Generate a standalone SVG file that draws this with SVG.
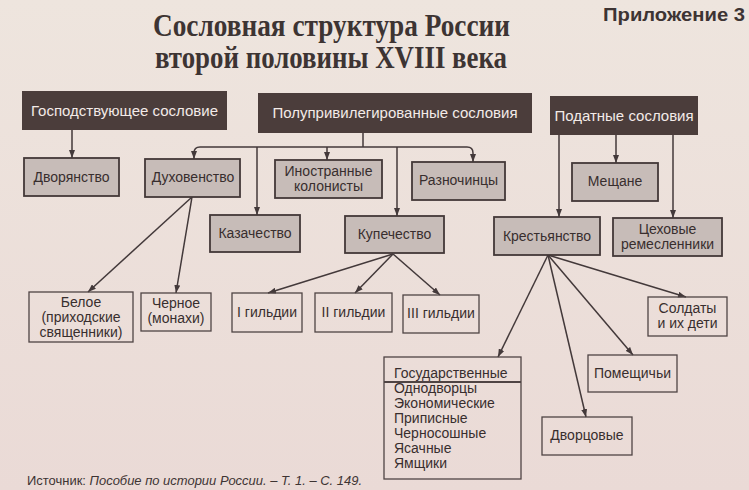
<svg xmlns="http://www.w3.org/2000/svg" width="749" height="490" viewBox="0 0 749 490">
<defs>
  <linearGradient id="bg" x1="0" y1="0" x2="0" y2="1">
    <stop offset="0" stop-color="#eee5de"/>
    <stop offset="1" stop-color="#eadad6"/>
  </linearGradient>
  <marker id="arr" markerUnits="userSpaceOnUse" markerWidth="8" markerHeight="6" refX="8" refY="3" orient="auto">
    <path d="M0,0 L8,3 L0,6 z" fill="#43393a"/>
  </marker>
</defs>
<style>
  .hdr { fill: #4b3d3b; }
  .hdrt { font-family: "Liberation Sans", Arial, sans-serif; font-size: 15px; fill: #f3ebe8; text-anchor: middle; }
  .gray { fill: #c7bcb8; stroke: #433838; stroke-width: 1.8; }
  .leaf { fill: none; stroke: #4f4444; stroke-width: 1.3; }
  .t { font-family: "Liberation Sans", Arial, sans-serif; font-size: 14px; fill: #382e2e; text-anchor: middle; }
  .tl { font-family: "Liberation Sans", Arial, sans-serif; font-size: 14px; fill: #382e2e; }
  .title { font-family: "Liberation Serif", "Times New Roman", serif; font-weight: bold; font-size: 31.5px; fill: #3d3433; }
  .con { fill: none; stroke: #43393a; stroke-width: 1.5; }
</style>
<rect x="0" y="0" width="749" height="490" fill="url(#bg)"/>

<text class="title" x="153" y="36" textLength="357" lengthAdjust="spacingAndGlyphs">Сословная структура России</text>
<text class="title" x="155" y="68" textLength="352" lengthAdjust="spacingAndGlyphs">второй половины XVIII века</text>
<text x="603" y="21" font-family="Liberation Sans, Arial, sans-serif" font-weight="bold" font-size="18" fill="#3d3433" textLength="142" lengthAdjust="spacingAndGlyphs">Приложение 3</text>

<g id="connectors">
  <line class="con" x1="72" y1="130" x2="72" y2="158" marker-end="url(#arr)"/>
  <line class="con" x1="363" y1="133" x2="363" y2="147"/>
  <path class="con" d="M200,147 L467,147 Q473,147 473,153 L473,162" marker-end="url(#arr)"/>
  <path class="con" d="M200,147 Q194,147 194,153 L194,159" marker-end="url(#arr)"/>
  <line class="con" x1="257" y1="147" x2="257" y2="215" marker-end="url(#arr)"/>
  <line class="con" x1="327" y1="147" x2="327" y2="160" marker-end="url(#arr)"/>
  <line class="con" x1="397" y1="147" x2="397" y2="216" marker-end="url(#arr)"/>
  <line class="con" x1="559" y1="135" x2="559" y2="217" marker-end="url(#arr)"/>
  <line class="con" x1="616" y1="135" x2="616" y2="163" marker-end="url(#arr)"/>
  <line class="con" x1="673" y1="135" x2="673" y2="218" marker-end="url(#arr)"/>
  <line class="con" x1="192" y1="197" x2="88" y2="292" marker-end="url(#arr)"/>
  <line class="con" x1="192" y1="197" x2="176" y2="293" marker-end="url(#arr)"/>
  <line class="con" x1="393" y1="254" x2="268" y2="293" marker-end="url(#arr)"/>
  <line class="con" x1="393" y1="254" x2="355" y2="293" marker-end="url(#arr)"/>
  <line class="con" x1="393" y1="254" x2="440" y2="295" marker-end="url(#arr)"/>
  <line class="con" x1="548" y1="255" x2="498" y2="357" marker-end="url(#arr)"/>
  <line class="con" x1="548" y1="255" x2="586" y2="417" marker-end="url(#arr)"/>
  <line class="con" x1="548" y1="255" x2="633" y2="355" marker-end="url(#arr)"/>
  <line class="con" x1="548" y1="255" x2="686" y2="297" marker-end="url(#arr)"/>
</g>

<g id="gospod">
  <rect class="hdr" x="22" y="91" width="205" height="39"/>
  <text class="hdrt" x="124.5" y="116">Господствующее сословие</text>
</g>
<g id="polupriv">
  <rect class="hdr" x="258" y="93" width="274" height="40"/>
  <text class="hdrt" x="395" y="118">Полупривилегированные сословия</text>
</g>
<g id="podatnye">
  <rect class="hdr" x="550" y="96" width="148" height="39"/>
  <text class="hdrt" x="624" y="121">Податные сословия</text>
</g>

<g id="dvoryanstvo">
  <rect class="gray" x="24" y="158" width="95" height="38"/>
  <text class="t" x="71.5" y="182">Дворянство</text>
</g>
<g id="dukhovenstvo">
  <rect class="gray" x="145" y="159" width="95" height="38"/>
  <text class="t" x="193" y="182">Духовенство</text>
</g>
<g id="inostrannye">
  <rect class="gray" x="275" y="160" width="107" height="38"/>
  <text class="t" x="328.5" y="176">Иностранные</text>
  <text class="t" x="328.5" y="191">колонисты</text>
</g>
<g id="raznochintsy">
  <rect class="gray" x="412" y="162" width="93" height="38"/>
  <text class="t" x="458.5" y="185">Разночинцы</text>
</g>
<g id="kazachestvo">
  <rect class="gray" x="210" y="215" width="90" height="37"/>
  <text class="t" x="255" y="238">Казачество</text>
</g>
<g id="kupechestvo">
  <rect class="gray" x="345" y="216" width="99" height="37"/>
  <text class="t" x="394.5" y="239">Купечество</text>
</g>
<g id="meshchane">
  <rect class="gray" x="572" y="163" width="86" height="38"/>
  <text class="t" x="615" y="186">Мещане</text>
</g>
<g id="krestyanstvo">
  <rect class="gray" x="494" y="217" width="106" height="38"/>
  <text class="t" x="547" y="241">Крестьянство</text>
</g>
<g id="tsekhovye">
  <rect class="gray" x="613" y="218" width="109" height="38"/>
  <text class="t" x="667.5" y="234">Цеховые</text>
  <text class="t" x="667.5" y="249">ремесленники</text>
</g>

<g id="beloe">
  <rect class="leaf" x="29" y="292" width="104" height="50"/>
  <text class="t" x="81" y="307">Белое</text>
  <text class="t" x="81" y="322">(приходские</text>
  <text class="t" x="81" y="337">священники)</text>
</g>
<g id="chernoe">
  <rect class="leaf" x="141" y="293" width="70" height="38"/>
  <text class="t" x="176" y="308">Черное</text>
  <text class="t" x="176" y="323">(монахи)</text>
</g>
<g id="gild1">
  <rect class="leaf" x="232" y="293" width="70" height="39"/>
  <text class="t" x="267" y="317">I гильдии</text>
</g>
<g id="gild2">
  <rect class="leaf" x="315" y="293" width="77" height="39"/>
  <text class="t" x="353.5" y="317">II гильдии</text>
</g>
<g id="gild3">
  <rect class="leaf" x="403" y="295" width="76" height="38"/>
  <text class="t" x="441" y="318">III гильдии</text>
</g>
<g id="soldaty">
  <rect class="leaf" x="648" y="297" width="79" height="39"/>
  <text class="t" x="687.5" y="313">Солдаты</text>
  <text class="t" x="687.5" y="328">и их дети</text>
</g>
<g id="gosudarstvennye">
  <rect class="leaf" x="384" y="357" width="137" height="122"/>
  <line x1="384" y1="382" x2="521" y2="382" stroke="#4f4444" stroke-width="1.8"/>
  <text class="tl" x="394" y="378">Государственные</text>
  <text class="tl" x="394" y="393">Однодворцы</text>
  <text class="tl" x="394" y="408">Экономические</text>
  <text class="tl" x="394" y="423">Приписные</text>
  <text class="tl" x="394" y="438">Черносошные</text>
  <text class="tl" x="394" y="453">Ясачные</text>
  <text class="tl" x="394" y="468">Ямщики</text>
</g>
<g id="pomeshchichi">
  <rect class="leaf" x="588" y="355" width="89" height="37"/>
  <text class="t" x="632.5" y="378">Помещичьи</text>
</g>
<g id="dvortsovye">
  <rect class="leaf" x="542" y="417" width="90" height="38"/>
  <text class="t" x="587" y="440">Дворцовые</text>
</g>

<text x="27" y="485" font-family="Liberation Sans, Arial, sans-serif" font-size="13.5" fill="#3d3433" textLength="335" lengthAdjust="spacingAndGlyphs">Источник: <tspan font-style="italic">Пособие по истории России. – Т. 1. – С. 149.</tspan></text>
</svg>
